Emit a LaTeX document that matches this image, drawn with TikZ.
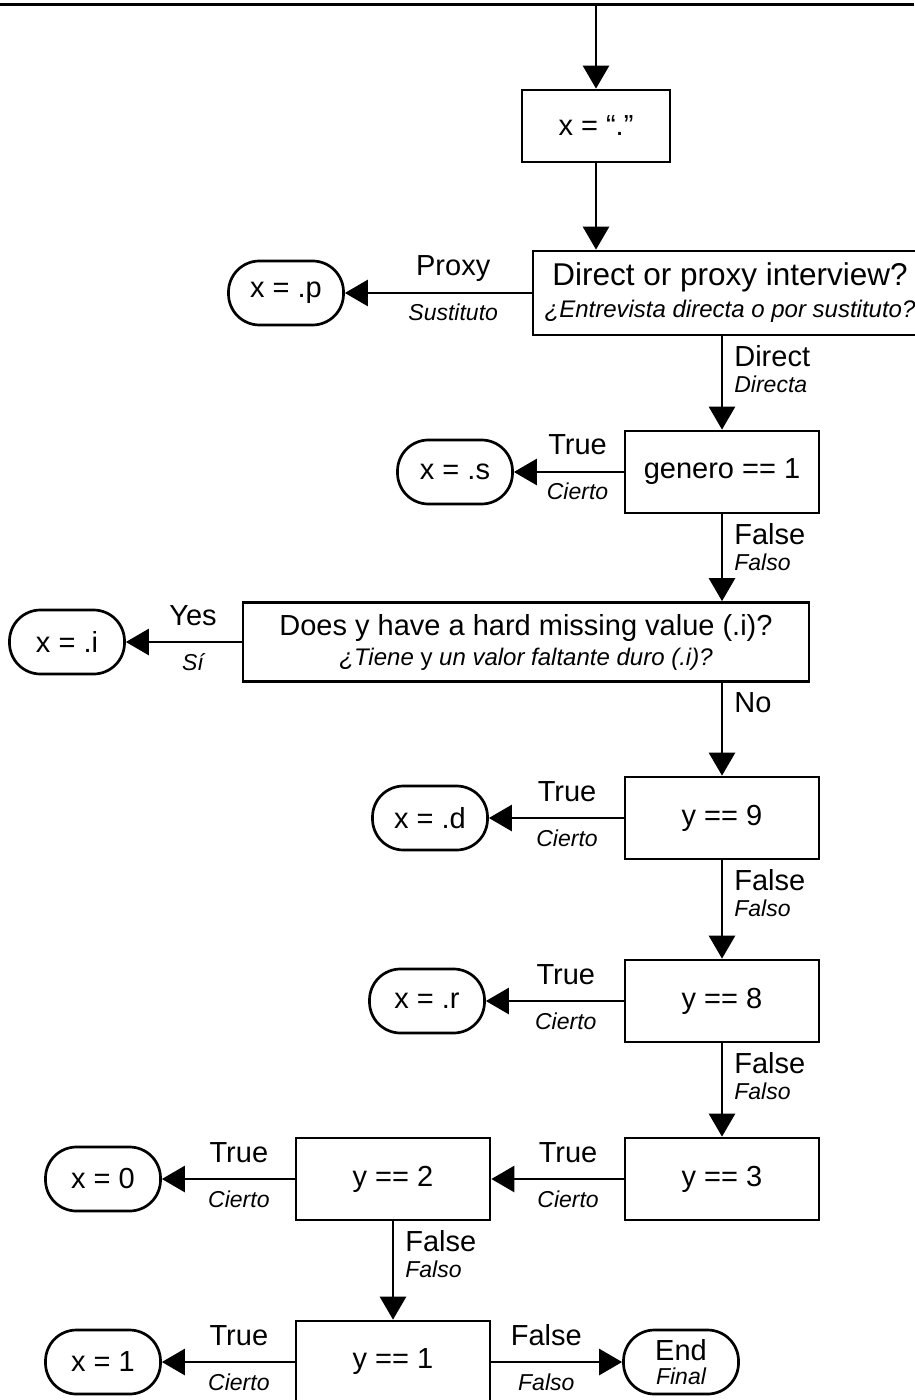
\documentclass[tikz,border=0pt]{standalone}
\usepackage{fontspec}
\setmainfont{Liberation Sans}
\usetikzlibrary{arrows.meta}

\begin{document}
\begin{tikzpicture}
[x=0.5pt,y=-0.5pt,
  lineDecorate/.style={-{Triangle[length=11.5pt,width=13pt]},line width=1.35pt},%
  boxDecorate/.style={draw,line width=1.35pt,inner sep=0pt,minimum width=97pt,minimum height=41pt,align=center,font=\fontsize{14.5}{17}\selectfont},%
  termDecorate/.style={draw,line width=1.35pt,rounded corners=15.5pt,inner sep=0pt,minimum width=57.5pt,minimum height=32pt,align=center,font=\fontsize{14.5}{15}\selectfont},%
  upLabel/.style={anchor=base,yshift=8.5pt,inner sep=0pt,font=\fontsize{14.5}{17}\selectfont},%
  downLabel/.style={anchor=base,yshift=-14pt,inner sep=0pt,font=\itshape\fontsize{11.5}{14}\selectfont},%
  sideUp/.style={anchor=base west,xshift=5.5pt,yshift=-15pt,inner sep=0pt,font=\fontsize{14.5}{17}\selectfont},%
  sideDown/.style={anchor=base west,xshift=5.5pt,yshift=-28pt,inner sep=0pt,font=\itshape\fontsize{11.5}{14}\selectfont}]
\useasboundingbox (0,0) rectangle (914,1400);
%% top border and entry point
\draw[line width=1.5pt] (0,5) -- (914,5);
\coordinate (top) at (596,5);
%% boxes
\node (dot) at (596,126) [boxDecorate,minimum width=74pt,minimum height=36pt] {x = “.”};
\node (direct) at (730,293) [boxDecorate,minimum width=197pt,minimum height=42pt]
  {{\fontsize{15.75}{18}\selectfont Direct or proxy interview?}\\[-1pt]
   {\itshape\fontsize{12}{14}\selectfont ¿Entrevista directa o por sustituto?}};
\node (does) at (526,642) [boxDecorate,minimum width=283pt,minimum height=39.5pt]
  {Does y have a hard missing value (.i)?\\[-2pt]
   {\itshape\fontsize{12}{14}\selectfont ¿Tiene {\upshape y} un valor faltante duro (.i)?}};
\foreach \nodename/\x/\y/\txt in {genero/722/472/{genero == 1}, y9/722/818/{y == 9},
  y8/722/1001/{y == 8}, y3/722/1179/{y == 3}, y2/393/1179/{y == 2}, y1/393/1362/{y == 1}}
{
  \node (\nodename) at (\x,\y) [boxDecorate] {\txt};
}
%% end points
\foreach \nodename/\x/\y/\txt in {xp/286/293/{x = .p}, xs/455/472/{x = .s}, xi/67/642/{x = .i},
  xd/430/818/{x = .d}, xr/427/1001/{x = .r}, x0/103/1179/{x = 0}, x1/103/1362/{x = 1},
  fin/681/1362/{End\\[-3pt]{\itshape\fontsize{11.5}{13}\selectfont Final}}}
{
  \node (\nodename) at (\x,\y) [termDecorate] {\txt};
}
%% connectors
\draw[lineDecorate] (top) -- (dot);
\draw[lineDecorate] (dot.south) -- (dot.south |- direct.north);
\foreach \startnode/\endnode/\alongnode/\up/\down in {direct/genero/genero/Direct/Directa,
  genero/does/genero/False/Falso, does/y9/y9/No/{}, y9/y8/y9/False/Falso,
  y8/y3/y8/False/Falso, y2/y1/y2/False/Falso}
{
  \draw[lineDecorate] (\startnode.south -| \alongnode) --
    node[sideUp,pos=0] {\up} node[sideDown,pos=0] {\down} (\endnode.north -| \alongnode);
}
\foreach \startnode/\endnode/\up/\down in {direct/xp/Proxy/Sustituto, genero/xs/True/Cierto,
  does/xi/Yes/Sí, y9/xd/True/Cierto, y8/xr/True/Cierto, y3/y2/True/Cierto,
  y2/x0/True/Cierto, y1/x1/True/Cierto, y1/fin/False/Falso}
{
  \draw[lineDecorate] (\startnode) -- node[upLabel,pos=0.42] {\up}
    node[downLabel,pos=0.42] {\down} (\endnode);
}
\end{tikzpicture}
\end{document}
